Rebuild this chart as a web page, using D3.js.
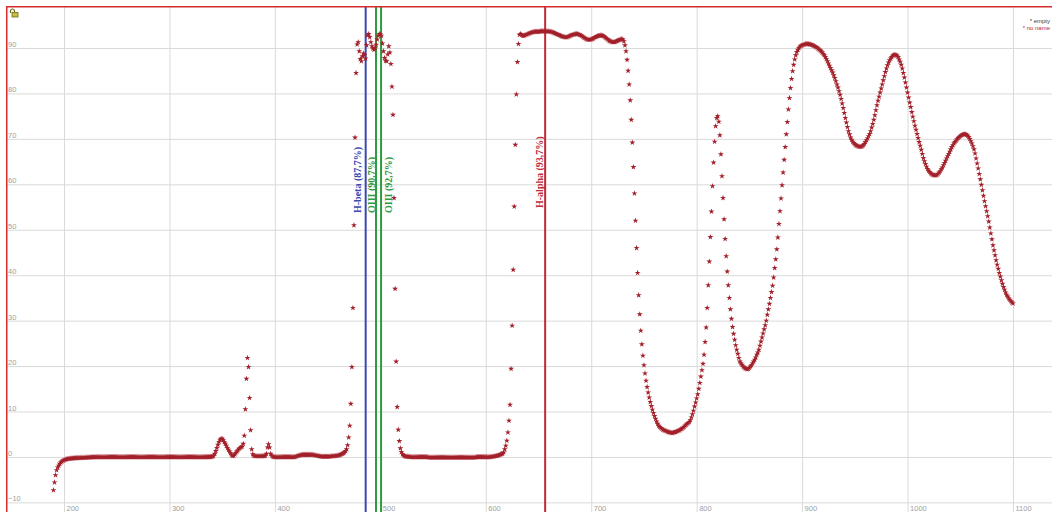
<!DOCTYPE html>
<html>
<head>
<meta charset="utf-8">
<script src="https://cdn.jsdelivr.net/npm/d3@7/dist/d3.min.js"></script>
<style>
  html, body { margin: 0; padding: 0; background: #ffffff; overflow: hidden; }
  svg { display: block; }
</style>
</head>
<body>
<script>
// Filter transmission curve (%), sampled every 1 nm.
// Each band holds its first wavelength and the values that follow it.

const uvStart = 190;
const uvValues = [
  -7.3,-5.6,-4.0,-2.9,-2.3,-1.9,-1.5,-1.2,-1.0,-0.8,
  -0.7,-0.6,-0.5,-0.45,-0.4,-0.37,-0.34,-0.32,-0.3,-0.28,
  -0.26,-0.24,-0.22,-0.21,-0.2,-0.18,-0.17,-0.16,-0.15,-0.14,
  -0.12,-0.11,-0.1,-0.09,-0.08,-0.07,-0.06,-0.05,-0.04,-0.03,
  -0.02,-0.01,0,0,0,0,0,0,0,0,
  0,0,0,0,0,0,0,0,0,0,
  0,0,0,0,0,0,0,0,0,0,
  0,0,0,0,0,0,0,0,0,0,
  0,0,0,0,0,0,0,0,0,0,
  0,0,0,0,0,0,0,0,0,0,
  0,0,0,0,0,0,0,0,0,0,
  0,0,0,0,0,0,0,0,0,0,
  0,0,0,0,0,0,0,0,0,0,
  0,0,0,0,0,0,0,0,0,0,
  0,0,0,0,0,0,0,0,0,0.05
];

const violetStart = 340;
const violetValues = [
  0.05,0.1,0.3,0.7,1.3,2.0,2.7,3.3,3.8,4.0,
  4.0,3.7,3.3,2.9,2.5,2.0,1.6,1.2,0.8,0.4,
  0.2,0.3,0.6,0.9,1.2,1.5,1.8,2.0,2.2,2.3,
  2.9,4.7,10.5,17.2,21.8,19.8,13.0,5.9,1.7,0.6,
  0.3,0.2,0.2,0.2,0.2,0.2,0.2,0.2,0.2,0.2,
  0.2,0.3,0.7,2.1,2.8,2.1,0.7,0.3,0.1,0,
  0,0,0,0,0,0,0,0,0,0,
  0,0,0,0,0,0,0,0,0,0,
  0.1,0.2,0.3,0.35,0.4,0.45,0.5,0.5,0.5,0.5,
  0.5,0.5,0.5,0.5,0.5,0.5,0.5,0.45,0.4,0.35,
  0.3,0.25,0.2,0.15,0.1,0.1,0.1,0.1,0.1,0.1,
  0.1,0.1,0.1,0.15,0.2,0.2,0.2,0.25,0.3,0.3,
  0.35,0.4,0.5,0.6,0.7
];

const blueStart = 465;
const blueValues = [
  0.8,1.0,1.3,1.7,2.6,4.3,6.9,11.7,19.8,32.8,
  51.0,70.3,84.5,90.8,91.3,89.3,87.6,87.1,88.2,88.8,
  88.4,87.7,90.6,92.8,93.1,92.4,91.3,90.4,89.9,89.6,
  90.0,90.7,91.9,92.7,93.1,93.0,92.7,91.0,89.3,87.8,
  87.2,87.1,88.6,90.4,89.0,86.5,81.5,75.3,57.0,37.0,
  21.0,11.0,6.0,3.5,1.9,1.1,0.6,0.35,0.2,0.1,
  0.1,0.1,0.05,0.05,0,0
];

const greenStart = 531;
const greenValues = [
  0,0,0,0,0,0,0,0,0,0,
  0,0,0,0,0,-0.1,-0.1,-0.1,-0.1,-0.1,
  -0.1,-0.1,-0.1,-0.1,-0.1,-0.1,-0.1,-0.1,-0.1,-0.1,
  -0.1,-0.1,-0.1,-0.1,-0.1,-0.1,-0.1,-0.1,-0.1,-0.1,
  -0.1,-0.1,-0.1,-0.1,-0.1,-0.1,-0.1,-0.1,-0.1,-0.1,
  -0.1,-0.1,-0.1,-0.1,-0.1,-0.1,-0.1,-0.1,-0.1,-0.1,
  0,0,0,0,0,0,0,0,0,0,
  0,0,0,0,0.05,0.1,0.1,0.15,0.2,0.25,
  0.3,0.35,0.45,0.55,0.65
];

const redStart = 616;
const redValues = [
  0.7,1.0,1.7,2.5,3.6,5.4,8.0,11.5,19.4,28.9,
  41.2,55.1,68.7,79.8,86.9,90.9,92.9,93.1,92.9,92.7,
  92.7,92.8,92.9,93.0,93.1,93.2,93.3,93.4,93.5,93.5,
  93.6,93.6,93.6,93.6,93.6,93.6,93.7,93.7,93.7,93.7,
  93.7,93.7,93.7,93.7,93.7,93.6,93.6,93.5,93.4,93.3,
  93.2,93.1,93.0,92.9,92.8,92.7,92.6,92.5,92.5,92.4,
  92.4,92.4,92.5,92.6,92.7,92.8,92.9,93.0,93.0,93.1,
  93.1,93.1,93.0,92.9,92.8,92.7,92.5,92.3,92.2,92.0,
  91.9,91.9,91.8,91.9,91.9,92.0,92.1,92.3,92.4,92.5,
  92.6,92.7,92.7,92.8,92.8,92.7,92.6,92.4,92.2,92.0,
  91.8,91.6,91.5,91.4,91.3,91.3,91.3,91.4,91.5,91.6,
  91.7,91.8,91.9,92.0,91.9,91.5,90.6,89.3,87.4,85.0,
  82.0,78.5,74.2,69.2,63.8
];

const nirStart = 741;
const nirValues = [
  58.0,52.0,46.0,40.5,35.6,31.4,27.8,24.8,22.3,20.2,
  18.4,16.8,15.4,14.2,13.1,12.1,11.2,10.4,9.7,9.0,
  8.4,7.8,7.3,6.9,6.6,6.4,6.2,6.0,5.9,5.8,
  5.7,5.6,5.5,5.4,5.4,5.3,5.3,5.4,5.4,5.5,
  5.6,5.7,5.8,5.9,6.1,6.2,6.4,6.6,6.9,7.1,
  7.3,7.5,7.7,8.1,8.7,9.4,10.2,11.1,12.0,12.9,
  13.8,15.0,16.3,17.7,19.1,20.5,22.5,25.3,28.5,32.8,
  37.8,43.0,48.4,54.0,59.6,64.8,69.4,72.8,74.6,75.0,
  73.8,70.8,66.6,61.8,57.0,52.3,48.0,44.2,40.8,37.8,
  35.0,32.5,30.4,28.6,27.1,25.8,24.6,23.6,22.7,21.8,
  21.0,20.6,20.3,19.9,19.7,19.5,19.4,19.3,19.4,19.6,
  19.9,20.2,20.6,21.0,21.4,21.9,22.5,23.0,23.6,24.5,
  25.4,26.3,27.2,28.1,29.0,30.0,31.3,32.5,33.7,35.0,
  36.3,37.7,39.5,41.6,43.5,45.7,48.3,51.3,54.1,56.9
];

const irStart = 881;
const irValues = [
  59.8,62.6,65.4,68.2,71.0,73.7,76.5,79.0,81.2,83.2,
  84.9,86.3,87.5,88.4,89.1,89.6,90.0,90.3,90.5,90.6,
  90.7,90.8,90.9,90.9,90.9,90.9,90.8,90.8,90.7,90.6,
  90.5,90.4,90.2,90.1,89.9,89.7,89.5,89.3,89.0,88.7,
  88.4,88.0,87.6,87.1,86.6,86.1,85.6,85.1,84.6,84.0,
  83.4,82.7,82.0,81.3,80.5,79.7,78.8,77.8,76.8,75.7,
  74.6,73.6,72.6,71.7,71.0,70.3,69.8,69.4,69.1,68.8,
  68.6,68.5,68.4,68.3,68.3,68.3,68.4,68.6,68.9,69.3,
  69.7,70.1,70.6,71.1,71.7,72.5,73.3,74.2,75.2,76.3,
  77.4,78.4,79.3,80.2,81.1,82.0,82.9,83.8,84.7,85.5,
  86.2,86.8,87.3,87.7,88.0,88.3,88.5,88.5,88.5,88.3,
  88.0,87.5,87.0,86.3,85.5,84.5,83.5,82.4,81.3,80.2,
  79.1,78.0,77.0,75.9,74.9,73.9,72.9,72.0,71.1,70.2,
  69.3,68.5,67.6,66.7,65.8,65.1,64.5,63.9,63.4,63.0,
  62.7,62.4,62.2,62.1,62.0,62.0,62.0,62.1,62.3,62.6,
  62.9,63.3,63.7,64.2,64.7,65.2,65.7,66.2,66.7,67.2,
  67.7,68.2,68.6,69.0,69.3,69.6,69.9,70.2,70.4,70.6,
  70.8,70.9,71.0,71.0,71.0,70.9,70.7,70.4,70.0,69.5,
  69.0,68.4,67.7,66.8,65.7,64.6,63.5,62.3,61.1,59.9,
  58.7,57.5,56.3,55.2,54.1,53.0,51.8,50.5,49.2,47.9,
  46.6,45.5,44.4,43.3,42.3,41.4,40.5,39.7,38.9,38.1,
  37.4,36.8,36.2,35.7,35.3,34.9,34.6,34.3,34.0,33.8
];

// Emission lines marked on the curve
const lineNames = ["H-beta", "OIII", "OIII", "H-alpha"];
const lineWavelengths = [486.1, 495.9, 500.7, 656.3];
const lineTransmission = [87.7, 90.7, 92.7, 93.7];

// Axis ticks
const xTicks = [200, 300, 400, 500, 600, 700, 800, 900, 1000, 1100];
const yTicks = [-10, 0, 10, 20, 30, 40, 50, 60, 70, 80, 90];

// Legend entries
const legendNames = ["* empty", "* no name"];

// ---------------------------------------------------------------------

const W = 1052, H = 512;
const plotLeft = 7, plotTop = 7;

const bands = [
  [uvStart, uvValues], [violetStart, violetValues], [blueStart, blueValues],
  [greenStart, greenValues], [redStart, redValues], [nirStart, nirValues],
  [irStart, irValues]
];
const points = [];
bands.forEach(([start, vals]) => {
  vals.forEach((v, i) => points.push({ nm: start + i, t: v }));
});

const x = d3.scaleLinear().domain([200, 1100]).range([64, 1013]);
const y = d3.scaleLinear().domain([-10, 90]).range([502.4, 48]);

const svg = d3.select("body").append("svg")
  .attr("width", W).attr("height", H)
  .style("font-family", "'Liberation Sans', Arial, sans-serif");

svg.append("rect").attr("width", W).attr("height", H).attr("fill", "#ffffff");

// Grid + tick labels
const gridColor = "#dadada";
const labelColor = "#a0a0a0";

const xAxis = svg.append("g")
  .attr("transform", `translate(0,${H})`)
  .call(d3.axisBottom(x).tickValues(xTicks).tickSize(-(H - plotTop)).tickFormat(d3.format("d")));
xAxis.select(".domain").remove();
xAxis.selectAll(".tick line").attr("stroke", gridColor).attr("stroke-width", 1);
xAxis.selectAll(".tick text")
  .attr("x", 2).attr("y", -1.5).attr("dy", 0)
  .attr("text-anchor", "start")
  .attr("fill", labelColor)
  .style("font-size", "7.5px");

const yAxis = svg.append("g")
  .attr("transform", `translate(${plotLeft},0)`)
  .call(d3.axisLeft(y).tickValues(yTicks).tickSize(-(W - plotLeft)).tickFormat(d3.format("d")));
yAxis.select(".domain").remove();
yAxis.selectAll(".tick line").attr("stroke", gridColor).attr("stroke-width", 1);
yAxis.selectAll(".tick text")
  .attr("x", 1).attr("y", -1.5).attr("dy", 0)
  .attr("text-anchor", "start")
  .attr("fill", labelColor)
  .style("font-size", "7.5px");

// Emission line markers
const lineColors = ["#3a48b0", "#2e9b3e", "#2e9b3e", "#c22a34"];
const labelShift = [-5, -1.5, 11, -2.5];
const labelStartY = [213, 213, 213, 208];

const fmtPct = v => v.toFixed(1).replace(".", ",");

const markers = svg.append("g");
lineWavelengths.forEach((nm, i) => {
  const lx = x(nm);
  markers.append("line")
    .attr("x1", lx).attr("x2", lx).attr("y1", plotTop).attr("y2", H)
    .attr("stroke", lineColors[i]).attr("stroke-width", 2);
  markers.append("text")
    .attr("transform", `translate(${lx + labelShift[i]},${labelStartY[i]}) rotate(-90)`)
    .attr("fill", lineColors[i])
    .style("font-family", "'Liberation Serif', 'Times New Roman', serif")
    .style("font-weight", "bold")
    .style("font-size", "10px")
    .text(`${lineNames[i]} (${fmtPct(lineTransmission[i])}%)`);
});

// Transmission points
const star = d3.symbol().type(d3.symbolStar).size(11);
svg.append("g").selectAll("path")
  .data(points)
  .join("path")
  .attr("transform", d => `translate(${x(d.nm)},${y(d.t)})`)
  .attr("d", star)
  .attr("fill", "#a3202a");

// Frame (top and left edges)
const frameColor = "#d42c2c";
svg.append("line").attr("x1", plotLeft - 0.75).attr("x2", W).attr("y1", plotTop - 0.25).attr("y2", plotTop - 0.25)
  .attr("stroke", frameColor).attr("stroke-width", 1.5);
svg.append("line").attr("x1", plotLeft - 0.25).attr("x2", plotLeft - 0.25).attr("y1", plotTop - 1).attr("y2", H)
  .attr("stroke", frameColor).attr("stroke-width", 1.5);

// Legend, right-aligned in the top corner
const legendColors = ["#3a3a3a", "#c0282e"];
legendNames.forEach((name, i) => {
  svg.append("text")
    .attr("x", W - 2).attr("y", 23 + i * 7)
    .attr("text-anchor", "end")
    .attr("fill", legendColors[i])
    .style("font-size", "6px")
    .text(name);
});

// Small padlock icon in the corner
const lock = svg.append("g").attr("transform", "translate(9,9)");
lock.append("path")
  .attr("d", "M1.5,4 L1.5,2 A2,2 0 0 1 5.5,2 L5.5,3")
  .attr("fill", "none").attr("stroke", "#6f6a1e").attr("stroke-width", 1.2);
lock.append("rect")
  .attr("x", 3).attr("y", 3.5).attr("width", 6).attr("height", 4.5)
  .attr("fill", "#c9bf3a").attr("stroke", "#6f6a1e").attr("stroke-width", 0.8);
</script>
</body>
</html>
